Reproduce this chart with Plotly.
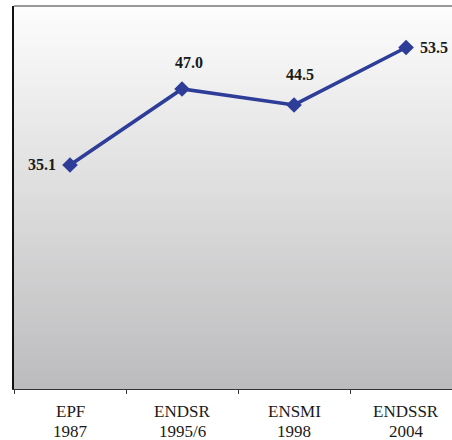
import plotly.graph_objects as go

# Data
survey_names = ["EPF", "ENDSR", "ENSMI", "ENDSSR"]
survey_years = ["1987", "1995/6", "1998", "2004"]
values = [35.1, 47.0, 44.5, 53.5]
value_labels = ["35.1", "47.0", "44.5", "53.5"]

# Label placement offsets (styling, px)
label_shifts = [(-28, 0), (7, 26), (6, 30), (28, 0)]

LINE_COLOR = "#2e3d98"
SERIF = "Liberation Serif, Times New Roman, serif"
TEXT = "#1a1a1a"

fig = go.Figure()
fig.add_trace(go.Scatter(
    x=survey_names, y=values, mode="lines+markers",
    line=dict(color=LINE_COLOR, width=3.6),
    marker=dict(symbol="diamond", size=12, color=LINE_COLOR),
    hoverinfo="skip", showlegend=False,
))

annotations = []
for cat, v, lab, (dx, dy) in zip(survey_names, values, value_labels, label_shifts):
    annotations.append(dict(
        x=cat, y=v, text=f"<b>{lab}</b>", showarrow=False,
        xshift=dx, yshift=dy,
        font=dict(family=SERIF, size=16, color=TEXT),
    ))

# Category labels (two rows under the axis)
for cat, yr in zip(survey_names, survey_years):
    annotations.append(dict(x=cat, y=0, text=cat, showarrow=False, yshift=-22,
                            height=19, borderpad=0,
                            font=dict(family=SERIF, size=17, color=TEXT)))
    annotations.append(dict(x=cat, y=0, text=yr, showarrow=False, yshift=-42,
                            height=19, borderpad=0,
                            font=dict(family=SERIF, size=17, color=TEXT)))

# Vertical gradient background made of thin strips (paper coords)
shapes = []
n = 96
top = (253, 253, 253)
bot = (188, 188, 190)
for i in range(n):
    t = (i + 0.5) / n
    c = tuple(round(top[k] + (bot[k] - top[k]) * t) for k in range(3))
    shapes.append(dict(
        type="rect", xref="paper", yref="paper",
        x0=0, x1=1, y0=1 - (i + 1) / n, y1=1 - i / n + 0.002,
        fillcolor=f"rgb({c[0]},{c[1]},{c[2]})", line=dict(width=0),
        layer="below",
    ))
# top border line
shapes.append(dict(type="line", xref="paper", yref="paper", x0=0, x1=1, y0=1, y1=1,
                   line=dict(color="#999999", width=2), layer="above"))

fig.update_layout(
    width=452, height=440,
    margin=dict(l=14, r=0, t=6, b=51),
    paper_bgcolor="white", plot_bgcolor="white",
    shapes=shapes, annotations=annotations,
    xaxis=dict(
        type="category", range=[-0.5, 3.41],
        showgrid=False, zeroline=False,
        showline=True, linecolor="#333333", linewidth=1,
        ticks="outside", tickson="boundaries", ticklen=4, tickcolor="#333333",
        showticklabels=False,
    ),
    yaxis=dict(
        range=[0, 60], showgrid=False, zeroline=False,
        showticklabels=False, ticks="",
        showline=True, linecolor="#111111", linewidth=2,
    ),
)

fig.write_html(
    "out.html",
    config={"displayModeBar": False},
    post_script="document.body.style.margin='0';document.body.style.overflow='hidden';",
)
